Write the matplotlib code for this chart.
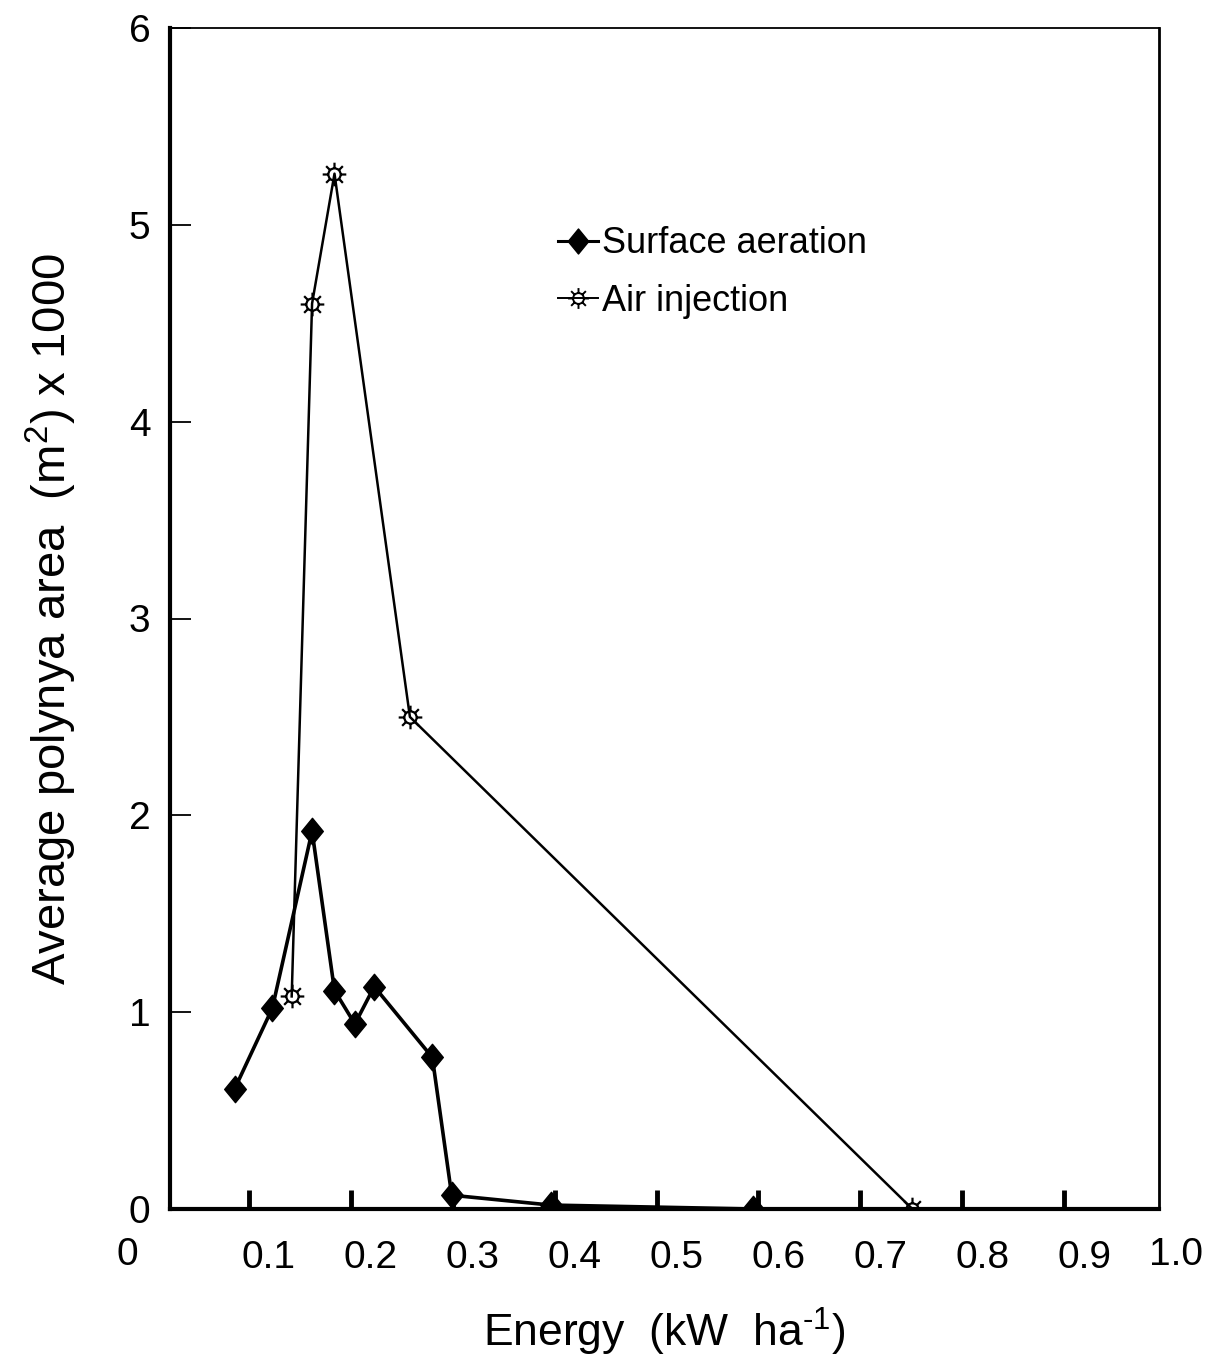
import numpy as np
import matplotlib
matplotlib.use("Agg")
import matplotlib.pyplot as plt
from matplotlib.path import Path
from matplotlib.lines import Line2D
import matplotlib.transforms as mtransforms

# ---- data ----
surface_x = [0.086, 0.123, 0.162, 0.184, 0.204, 0.223, 0.280, 0.299, 0.396, 0.595]
surface_y = [0.61, 1.02, 1.92, 1.11, 0.94, 1.13, 0.77, 0.07, 0.02, 0.00]
air_x = [0.142, 0.162, 0.184, 0.258, 0.751]
air_y = [1.08, 4.60, 5.26, 2.50, 0.00]
xtick_vals = [0.1, 0.2, 0.3, 0.4, 0.5, 0.6, 0.7, 0.8, 0.9]
xtick_labels = ["0.1", "0.2", "0.3", "0.4", "0.5", "0.6", "0.7", "0.8", "0.9"]
ytick_vals = [0, 1, 2, 3, 4, 5, 6]
ytick_labels = ["0", "1", "2", "3", "4", "5", "6"]

plt.rcParams['font.family'] = ['Liberation Sans', 'DejaVu Sans']
plt.rcParams['mathtext.fontset'] = 'custom'
plt.rcParams['mathtext.rm'] = 'Liberation Sans'
plt.rcParams['mathtext.it'] = 'Liberation Sans'
plt.rcParams['mathtext.default'] = 'rm'

# custom markers
diamond = Path([(0, 1), (0.82, 0), (0, -1), (-0.82, 0), (0, 1)],
               [Path.MOVETO, Path.LINETO, Path.LINETO, Path.LINETO, Path.CLOSEPOLY])
circ = Path.unit_circle()
circ = Path(circ.vertices * 0.52, circ.codes)
spokes_v, spokes_c = [], []
for k in range(8):
    a = np.deg2rad(k * 45)
    spokes_v += [(0.56 * np.cos(a), 0.56 * np.sin(a)), (1.0 * np.cos(a), 1.0 * np.sin(a))]
    spokes_c += [Path.MOVETO, Path.LINETO]
sun = Path.make_compound_path(circ, Path(spokes_v, spokes_c))

fig = plt.figure(figsize=(12.11, 13.56), dpi=100)
ax = fig.add_axes([170/1211, 1 - 1209/1356, 989/1211, 1181/1356])

ax.plot(air_x, air_y, color='black', lw=1.8, marker=sun, markersize=17,
        markerfacecolor='none', markeredgecolor='black', markeredgewidth=1.6,
        label='Air injection', zorder=3)
ax.plot(surface_x, surface_y, color='black', lw=2.6, marker=diamond, markersize=19,
        markerfacecolor='black', markeredgecolor='black', label='Surface aeration', zorder=4)

ax.set_xlim(0.0226, 0.993)
ax.set_ylim(0, 6)

ax.set_xticks(xtick_vals)
ax.set_xticklabels(xtick_labels, fontsize=28)
ax.set_yticks(ytick_vals)
ax.set_yticklabels(ytick_labels, fontsize=28)
ax.tick_params(axis='x', direction='in', length=14, width=3.5, pad=22)
ax.tick_params(axis='y', direction='in', length=15, width=1.3, pad=14)

offset = mtransforms.ScaledTranslation(20/100, 0, fig.dpi_scale_trans)
for lab in ax.get_xticklabels():
    lab.set_transform(lab.get_transform() + offset)

ax.text(-0.043, -0.039, "0", transform=ax.transAxes, fontsize=28,
        ha='center', va='center', clip_on=False)
ax.text(1.017, -0.039, "1.0", transform=ax.transAxes, fontsize=28,
        ha='center', va='center', clip_on=False)

for side, w in [('left', 3.0), ('bottom', 3.0), ('right', 2.0), ('top', 1.3)]:
    ax.spines[side].set_linewidth(w)

ax.set_xlabel(r"Energy  (kW  ha$^{\text{-1}}$)", fontsize=32, labelpad=22)
ax.set_ylabel("Average polynya area  (m$^2$) x 1000", fontsize=34, labelpad=36)

handles = [Line2D([], [], color='black', lw=2.2, marker=diamond, markersize=18,
                  markerfacecolor='black'),
           Line2D([], [], color='black', lw=1.4, marker=sun, markersize=15,
                  markerfacecolor='none', markeredgewidth=1.4)]
ax.legend(handles, ['Surface aeration', 'Air injection'], loc='upper left',
          bbox_to_anchor=(374/989, (1209-212)/1181), frameon=False, fontsize=26,
          handlelength=1.1, handletextpad=0.1, labelspacing=0.62, borderaxespad=0)

fig.savefig("out.png", dpi=100)
